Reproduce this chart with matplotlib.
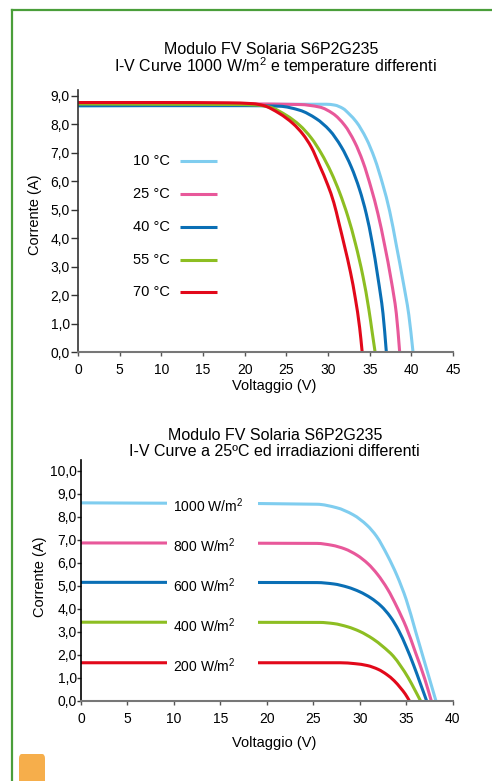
import numpy as np
import matplotlib
matplotlib.use("Agg")
import matplotlib.pyplot as plt
from matplotlib.lines import Line2D
from matplotlib.patches import Rectangle, FancyBboxPatch, PathPatch
from matplotlib.path import Path
from matplotlib.ticker import FuncFormatter, MultipleLocator

plt.rcParams['font.family'] = ['Liberation Sans', 'DejaVu Sans']
plt.rcParams['mathtext.fontset'] = 'custom'
plt.rcParams['mathtext.rm'] = 'Liberation Sans'
plt.rcParams['mathtext.it'] = 'Liberation Sans:italic'
plt.rcParams['mathtext.bf'] = 'Liberation Sans:bold'

# --- chart 1: temperature curves (V, I) ---
temp_labels = ['10 °C', '25 °C', '40 °C', '55 °C', '70 °C']

v_10 = [0, 10, 20, 29.8, 30.8, 31.8, 32.6, 33.4, 34.6, 35.6, 36.6, 37.4, 38.2, 39.0, 39.7, 40.2]
i_10 = [8.65, 8.67, 8.70, 8.71, 8.68, 8.56, 8.35, 8.09, 7.50, 6.80, 5.86, 4.95, 3.75, 2.50, 1.30, 0.0]

v_25 = [0, 10, 20, 26.6, 29.0, 30.6, 32.0, 33.2, 34.2, 35.2, 36.0, 36.8, 37.6, 38.2, 38.6]
i_25 = [8.70, 8.71, 8.72, 8.70, 8.61, 8.38, 7.97, 7.38, 6.68, 5.74, 4.85, 3.75, 2.50, 1.35, 0.0]

v_40 = [0, 10, 20, 24.2, 26.6, 28.6, 30.2, 31.6, 32.8, 33.8, 34.6, 35.3, 36.0, 36.6, 37.0]
i_40 = [8.66, 8.66, 8.66, 8.64, 8.50, 8.20, 7.79, 7.21, 6.50, 5.70, 4.85, 3.85, 2.60, 1.35, 0.0]

v_55 = [0, 10, 19, 21.5, 23.0, 25.0, 26.6, 28.0, 29.2, 30.4, 31.4, 32.4, 33.3, 34.2, 34.9, 35.3, 35.65]
i_55 = [8.72, 8.71, 8.70, 8.68, 8.61, 8.32, 7.97, 7.52, 6.98, 6.30, 5.60, 4.75, 3.80, 2.65, 1.50, 0.70, 0.0]

v_70 = [0, 10, 18, 21.0, 22.2, 24.2, 25.8, 27.0, 28.0, 29.0, 30.0, 30.7, 31.3, 32.0, 32.7, 33.3, 33.8, 34.1]
i_70 = [8.77, 8.77, 8.76, 8.73, 8.67, 8.38, 8.03, 7.65, 7.20, 6.55, 5.85, 5.25, 4.55, 3.70, 2.80, 1.85, 0.85, 0.0]

# --- chart 2: irradiance curves (V, I) ---
irr_labels = ['1000 W/m$^{2}$', '800 W/m$^{2}$', '600 W/m$^{2}$', '400 W/m$^{2}$', '200 W/m$^{2}$']

v_1000 = [0, 25.4, 27.5, 29.3, 30.8, 31.8, 33.0, 34.0, 35.0, 36.0, 37.0, 37.8, 38.2]
i_1000 = [8.60, 8.54, 8.39, 8.08, 7.62, 7.15, 6.30, 5.45, 4.40, 3.03, 1.65, 0.55, 0.0]

v_800 = [0, 25.4, 27.0, 28.4, 29.7, 30.9, 31.9, 33.0, 34.0, 35.0, 36.0, 37.0, 37.7]
i_800 = [6.86, 6.84, 6.76, 6.60, 6.33, 5.95, 5.50, 4.85, 4.08, 3.20, 2.10, 0.95, 0.0]

v_600 = [0, 25.4, 27.2, 28.7, 30.0, 31.2, 32.3, 33.3, 34.2, 35.0, 35.8, 36.5, 37.2]
i_600 = [5.15, 5.14, 5.08, 4.94, 4.74, 4.47, 4.12, 3.65, 3.05, 2.35, 1.55, 0.78, 0.0]

v_400 = [0, 25.7, 27.2, 28.7, 30.0, 31.4, 32.5, 33.6, 34.4, 35.2, 35.9, 36.55]
i_400 = [3.42, 3.41, 3.36, 3.22, 3.02, 2.70, 2.36, 1.95, 1.52, 1.02, 0.50, 0.0]

v_200 = [0, 27.9, 29.5, 30.8, 32.0, 32.9, 33.7, 34.4, 34.9, 35.35]
i_200 = [1.66, 1.66, 1.62, 1.54, 1.37, 1.15, 0.88, 0.56, 0.30, 0.0]

colors = ['#7fcdef', '#e8589a', '#0a6fb5', '#8dbe22', '#e2081a']

W, H = 492, 781
fig = plt.figure(figsize=(W / 100, H / 100), dpi=100)

def fx(px):
    return px / W

def fy(py):
    return 1 - py / H

comma = FuncFormatter(lambda v, p: ('%.1f' % v).replace('.', ','))


def smooth_curve(ax, v, i, color, lw=2.2, z=2):
    # monotone cubic (Fritsch-Carlson) through the read points, drawn as bezier path
    x = np.asarray(v, float)
    y = np.asarray(i, float)
    h = np.diff(x)
    d = np.diff(y) / h
    m = np.zeros_like(x)
    m[0], m[-1] = d[0], d[-1]
    for k in range(1, len(x) - 1):
        if d[k - 1] * d[k] <= 0:
            m[k] = 0
        else:
            w1 = 2 * h[k] + h[k - 1]
            w2 = h[k] + 2 * h[k - 1]
            m[k] = (w1 + w2) / (w1 / d[k - 1] + w2 / d[k])
    verts = [(x[0], y[0])]
    codes = [Path.MOVETO]
    for k in range(len(x) - 1):
        verts += [(x[k] + h[k] / 3, y[k] + m[k] * h[k] / 3),
                  (x[k + 1] - h[k] / 3, y[k + 1] - m[k + 1] * h[k] / 3),
                  (x[k + 1], y[k + 1])]
        codes += [Path.CURVE4] * 3
    patch = PathPatch(Path(verts, codes), fill=False, ec=color, lw=lw,
                      capstyle='butt', joinstyle='round', zorder=z, clip_on=False)
    ax.add_patch(patch)


def style_axes(ax, tick_len):
    for s in ['top', 'right']:
        ax.spines[s].set_visible(False)
    ax.spines['left'].set_color('#333333')
    ax.spines['bottom'].set_color('#777777')
    ax.spines['left'].set_linewidth(1.2)
    ax.spines['bottom'].set_linewidth(1.5)
    ax.yaxis.set_major_formatter(comma)
    ax.tick_params(axis='y', direction='out', length=tick_len, width=1, pad=1,
                   labelsize=10, colors='#333333', labelcolor='black')
    ax.tick_params(axis='x', direction='out', length=3, width=1, pad=5,
                   labelsize=10, colors='#555555', labelcolor='black')

# ---------------- chart 1 ----------------
ax1 = fig.add_axes([fx(78), fy(352), fx(453) - fx(78), fy(90.3) - fy(352)])
ax1.set_xlim(0, 45)
ax1.set_ylim(0, 9.2)
ax1.xaxis.set_major_locator(MultipleLocator(5))
ax1.yaxis.set_major_locator(MultipleLocator(1))
style_axes(ax1, 5)

series1 = [(v_10, i_10), (v_25, i_25), (v_40, i_40), (v_55, i_55), (v_70, i_70)]
for (v, i), c in zip(series1, colors):
    smooth_curve(ax1, v, i, c)

leg_y = [6.72, 5.56, 4.40, 3.24, 2.11]
for lab, y, c in zip(temp_labels, leg_y, colors):
    ax1.text(11.0, y, lab, ha='right', va='center', fontsize=10.5)
    ax1.plot([12.2, 16.7], [y, y], color=c, lw=2.2, solid_capstyle='butt')

fig.text(fx(271), fy(49), 'Modulo FV Solaria S6P2G235', ha='center', va='center', fontsize=11.5)
fig.text(fx(275), fy(66), 'I-V Curve 1000 W/m$^{2}$ e temperature differenti', ha='center', va='center', fontsize=11.5)
fig.text(fx(35), fy(215), 'Corrente (A)', rotation=90, ha='center', va='center', fontsize=10.5)
fig.text(fx(274), fy(386), 'Voltaggio (V)', ha='center', va='center', fontsize=10.5)

# ---------------- chart 2 ----------------
ax2 = fig.add_axes([fx(81), fy(701), fx(452.7) - fx(81), fy(460) - fy(701)])
ax2.set_xlim(0, 40)
ax2.set_ylim(0, 10.46)
ax2.xaxis.set_major_locator(MultipleLocator(5))
ax2.yaxis.set_major_locator(MultipleLocator(1))
style_axes(ax2, 3)
ax2.spines['left'].set_color('black')
ax2.tick_params(axis='y', pad=0)

series2 = [(v_1000, i_1000), (v_800, i_800), (v_600, i_600), (v_400, i_400), (v_200, i_200)]
for (v, i), c in zip(series2, colors):
    smooth_curve(ax2, v, i, c)

# gap in the lines where the labels sit
ax2.add_patch(Rectangle((9.3, 0.8), 19.1 - 9.3, 8.8, fc='white', ec='none', zorder=2.2))
for (v, i), lab in zip(series2, irr_labels):
    ax2.text(9.9, i[0] - 0.14, lab, ha='left', va='center', fontsize=10, zorder=3)

fig.text(fx(275), fy(435), 'Modulo FV Solaria S6P2G235', ha='center', va='center', fontsize=11.5)
fig.text(fx(274), fy(452), 'I-V Curve a 25ºC ed irradiazioni differenti', ha='center', va='center', fontsize=11.5)
fig.text(fx(40), fy(577), 'Corrente (A)', rotation=90, ha='center', va='center', fontsize=10.5)
fig.text(fx(274), fy(743), 'Voltaggio (V)', ha='center', va='center', fontsize=10.5)

# frame decoration
green = '#4a9e3a'
fig.add_artist(Line2D([fx(12), 1], [fy(10), fy(10)], color=green, lw=1.6))
fig.add_artist(Line2D([fx(12), fx(12)], [fy(10), 0], color=green, lw=1.6))
fig.add_artist(FancyBboxPatch((fx(19), fy(781) - 0.01), fx(26), fy(754) - fy(781) + 0.01,
                              boxstyle='round,pad=0,rounding_size=0.006',
                              fc='#f6ae4b', ec='none', transform=fig.transFigure))

fig.savefig('out.png', dpi=100)
